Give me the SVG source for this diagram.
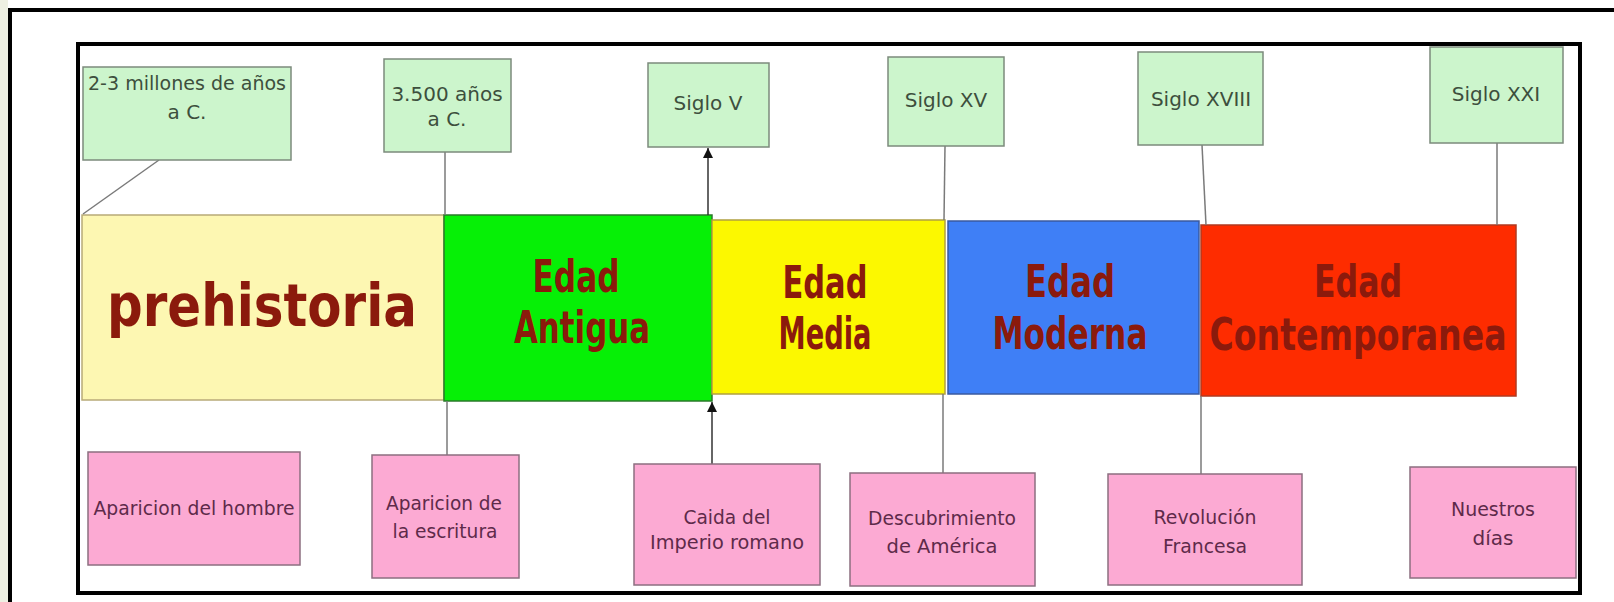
<svg xmlns="http://www.w3.org/2000/svg" width="1614" height="602" viewBox="0 0 1614 602">
<style>
.g rect{fill:#ccf5cc;stroke:#7c8a7c;stroke-width:1.5}
.g text{font-family:"DejaVu Sans",sans-serif;font-size:20px;fill:#3d4f3d;text-anchor:middle}
.p rect{fill:#fcaad3;stroke:#8c6f80;stroke-width:1.5}
.p text{font-family:"DejaVu Sans",sans-serif;font-size:20px;fill:#5e2a4a;text-anchor:middle}
.b text{font-family:"DejaVu Sans",sans-serif;font-weight:bold;font-size:44px;fill:#8b1a0c;text-anchor:middle}
.c line{stroke:#7a7a7a;stroke-width:1.5}
.c line.a{stroke:#333;marker-end:url(#ah)}
</style>
<defs>
<marker id="ah" viewBox="0 0 10 12" refX="10" refY="5" markerWidth="10" markerHeight="12" markerUnits="userSpaceOnUse" orient="auto">
<path d="M0,0 L10,5 L0,10 z" fill="#111"/>
</marker>
</defs>
<rect x="0" y="0" width="1614" height="602" fill="#ffffff"/>
<rect x="0" y="0" width="8" height="602" fill="#eef0e2"/>
<rect x="10" y="10" width="1620" height="600" fill="none" stroke="#000" stroke-width="4"/>
<rect x="78" y="44" width="1502" height="549" fill="none" stroke="#000" stroke-width="4"/>

<g id="bar-prehistoria" class="b">
<rect x="82" y="215" width="362" height="185" fill="#fdf7b2" stroke="#b8aa78" stroke-width="1.5"/>
<text x="262" y="326" style="font-size:58px" textLength="310" lengthAdjust="spacingAndGlyphs">prehistoria</text>
</g>
<g id="bar-antigua" class="b">
<rect x="444" y="215" width="268" height="186" fill="#06f006" stroke="#2a7a2a" stroke-width="1.5"/>
<text x="576" y="292" textLength="87" lengthAdjust="spacingAndGlyphs">Edad</text>
<text x="582" y="343" textLength="136" lengthAdjust="spacingAndGlyphs">Antigua</text>
</g>
<g id="bar-media" class="b">
<rect x="712" y="220" width="233" height="174" fill="#fcf800" stroke="#b0a040" stroke-width="1.5"/>
<text x="825" y="298" textLength="85" lengthAdjust="spacingAndGlyphs">Edad</text>
<text x="825" y="349" textLength="93" lengthAdjust="spacingAndGlyphs">Media</text>
</g>
<g id="bar-moderna" class="b">
<rect x="948" y="221" width="251" height="173" fill="#3f7ff6" stroke="#3a5aa0" stroke-width="1.5"/>
<text x="1070" y="297" textLength="90" lengthAdjust="spacingAndGlyphs">Edad</text>
<text x="1070" y="349" textLength="155" lengthAdjust="spacingAndGlyphs">Moderna</text>
</g>
<g id="bar-contemporanea" class="b">
<rect x="1201" y="225" width="315" height="171" fill="#fe2c00" stroke="#b03a20" stroke-width="1.5"/>
<text x="1358" y="297" textLength="88" lengthAdjust="spacingAndGlyphs">Edad</text>
<text x="1358" y="350" textLength="297" lengthAdjust="spacingAndGlyphs">Contemporanea</text>
</g>

<g id="connectors" class="c">
<line x1="159" y1="160" x2="83" y2="214"/>
<line x1="445" y1="152" x2="445" y2="215"/>
<line x1="447" y1="401" x2="447" y2="455"/>
<line class="a" x1="708" y1="215" x2="708" y2="148"/>
<line class="a" x1="712" y1="464" x2="712" y2="402"/>
<line x1="945" y1="146" x2="944" y2="220"/>
<line x1="943" y1="394" x2="943" y2="473"/>
<line x1="1202" y1="145" x2="1206" y2="225"/>
<line x1="1201" y1="396" x2="1201" y2="474"/>
<line x1="1497" y1="143" x2="1497" y2="225"/>
</g>

<g id="t-millones" class="g">
<rect x="83" y="67" width="208" height="93"/>
<text x="187" y="90" textLength="198" lengthAdjust="spacingAndGlyphs">2-3 millones de años</text>
<text x="187" y="119">a C.</text>
</g>
<g id="t-3500" class="g">
<rect x="384" y="59" width="127" height="93"/>
<text x="447" y="101">3.500 años</text>
<text x="447" y="126">a C.</text>
</g>
<g id="t-sigloV" class="g">
<rect x="648" y="63" width="121" height="84"/>
<text x="708" y="110">Siglo V</text>
</g>
<g id="t-sigloXV" class="g">
<rect x="888" y="57" width="116" height="89"/>
<text x="946" y="107">Siglo XV</text>
</g>
<g id="t-sigloXVIII" class="g">
<rect x="1138" y="52" width="125" height="93"/>
<text x="1201" y="106">Siglo XVIII</text>
</g>
<g id="t-sigloXXI" class="g">
<rect x="1430" y="47" width="133" height="96"/>
<text x="1496" y="101">Siglo XXI</text>
</g>

<g id="e-hombre" class="p">
<rect x="88" y="452" width="212" height="113"/>
<text x="194" y="515" textLength="201" lengthAdjust="spacingAndGlyphs">Aparicion del hombre</text>
</g>
<g id="e-escritura" class="p">
<rect x="372" y="455" width="147" height="123"/>
<text x="444" y="510" textLength="116" lengthAdjust="spacingAndGlyphs">Aparicion de</text>
<text x="445" y="538" textLength="105" lengthAdjust="spacingAndGlyphs">la escritura</text>
</g>
<g id="e-imperio" class="p">
<rect x="634" y="464" width="186" height="121"/>
<text x="727" y="524" textLength="87" lengthAdjust="spacingAndGlyphs">Caida del</text>
<text x="727" y="549" textLength="154" lengthAdjust="spacingAndGlyphs">Imperio romano</text>
</g>
<g id="e-america" class="p">
<rect x="850" y="473" width="185" height="113"/>
<text x="942" y="525" textLength="148" lengthAdjust="spacingAndGlyphs">Descubrimiento</text>
<text x="942" y="553" textLength="111" lengthAdjust="spacingAndGlyphs">de América</text>
</g>
<g id="e-revolucion" class="p">
<rect x="1108" y="474" width="194" height="111"/>
<text x="1205" y="524" textLength="103" lengthAdjust="spacingAndGlyphs">Revolución</text>
<text x="1205" y="553" textLength="84" lengthAdjust="spacingAndGlyphs">Francesa</text>
</g>
<g id="e-dias" class="p">
<rect x="1410" y="467" width="166" height="111"/>
<text x="1493" y="516" textLength="84" lengthAdjust="spacingAndGlyphs">Nuestros</text>
<text x="1493" y="545">días</text>
</g>
</svg>
